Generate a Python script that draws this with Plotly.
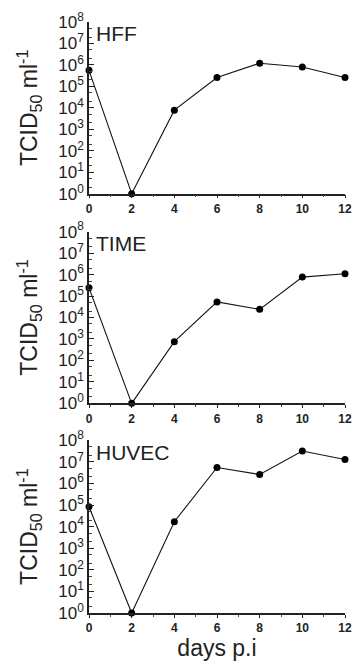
import plotly.graph_objects as go
from plotly.subplots import make_subplots

days = [0, 2, 4, 6, 8, 10, 12]
panel_names = ["HFF", "TIME", "HUVEC"]
hff = [5.6e5, 1.0, 7.8e3, 2.6e5, 1.2e6, 8.0e5, 2.6e5]
time_vals = [2.4e5, 1.0, 7.5e2, 5.3e4, 2.4e4, 7.6e5, 1.1e6]
huvec = [8.4e4, 1.0, 1.7e4, 5.5e6, 2.6e6, 3.2e7, 1.3e7]
series = [hff, time_vals, huvec]
ytick_vals = [10 ** k for k in range(9)]
ytick_text = ["10<sup>%d</sup>" % k for k in range(9)]
xtick_vals = [0, 2, 4, 6, 8, 10, 12]

fig = make_subplots(rows=3, cols=1, shared_xaxes=False)

domains = [[0.7095, 1.0], [0.3547, 0.6453], [0.0, 0.2922]]
font = "Liberation Sans, Arial, sans-serif"

for i, (name, vals) in enumerate(zip(panel_names, series)):
    r = i + 1
    fig.add_trace(go.Scatter(x=days, y=vals, mode="lines+markers",
                             line=dict(color="#111", width=1.1),
                             marker=dict(color="#000", size=7),
                             cliponaxis=False, showlegend=False), row=r, col=1)
    fig.update_yaxes(type="log", range=[0, 8], tickvals=ytick_vals, ticktext=ytick_text,
                     ticks="inside", ticklen=5, tickwidth=1, tickcolor="#222",
                     minor=dict(ticks="inside", ticklen=3, tickwidth=1, tickcolor="#444", showgrid=False),
                     showline=True, linecolor="#222", linewidth=1.5,
                     showgrid=False, zeroline=False,
                     tickfont=dict(family=font, size=17, color="#222"),
                     title=dict(text="TCID<sub>50</sub> ml<sup>-1</sup>",
                                font=dict(family=font, size=23, color="#222"), standoff=14),
                     domain=domains[i], row=r, col=1)
    fig.update_xaxes(range=[0, 12], tickvals=xtick_vals,
                     ticktext=["<b>%d</b>" % v for v in xtick_vals],
                     ticks="outside", ticklen=3, tickwidth=1, tickcolor="#222",
                     minor=dict(ticks="outside", ticklen=2, tickwidth=1, tickcolor="#444", dtick=1, showgrid=False),
                     showline=True, linecolor="#222", linewidth=1.5,
                     showgrid=False, zeroline=False,
                     tickfont=dict(family=font, size=12, color="#222"),
                     row=r, col=1)
    axn = "" if r == 1 else str(r)
    fig.add_annotation(text=name, xref="x%s domain" % axn, yref="y%s domain" % axn,
                       x=0.02, y=1.01, xanchor="left", yanchor="top", showarrow=False,
                       font=dict(family=font, size=21, color="#222"))

fig.update_xaxes(title=dict(text="days p.i", font=dict(family=font, size=23, color="#222"), standoff=4),
                 row=3, col=1)

fig.update_layout(width=362, height=666, margin=dict(l=89, r=10, t=21, b=53),
                  plot_bgcolor="white", paper_bgcolor="white")

fig.write_html("out.html", config={"displayModeBar": False},
               post_script="document.body.style.margin='0';")
